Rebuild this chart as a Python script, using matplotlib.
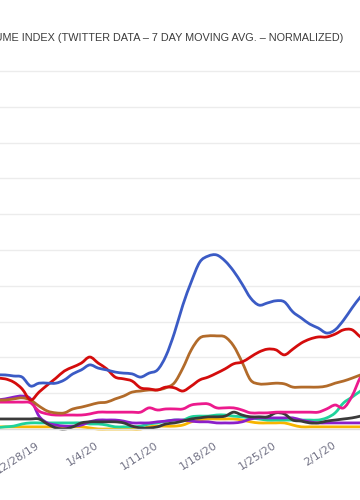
import numpy as np
import pandas as pd
import matplotlib
matplotlib.use('Agg')
import matplotlib.pyplot as plt
import matplotlib.dates as mdates
import matplotlib.transforms as mtransforms
from matplotlib.path import Path
from matplotlib.patches import PathPatch

# daily values, 12/23/19 .. 2/5/20 (index, normalized)
dates = pd.date_range('2019-12-23', '2020-02-05', freq='D')

blue = [15.1, 15.1, 14.8, 14.5, 12.0, 12.8, 12.8, 12.8, 13.7, 15.4, 16.5, 17.9, 17.0, 16.5, 15.9,
        15.6, 15.4, 14.5, 15.6, 16.5, 20.4, 26.8, 34.6, 41.1, 46.6, 48.3, 48.6, 46.9, 44.1, 40.5,
        36.6, 34.6, 35.2, 35.8, 35.5, 32.7, 31.0, 29.3, 28.2, 26.8, 27.7, 30.4, 33.8, 36.9, 39.4]
red = [14.2, 14.0, 13.1, 11.2, 8.1, 10.3, 12.3, 14.2, 16.2, 17.3, 18.4, 20.1, 18.4, 16.8, 14.5,
       14.0, 13.4, 11.5, 11.2, 10.9, 11.7, 11.5, 10.6, 12.0, 13.7, 14.5, 15.6, 16.8, 18.2, 18.7,
       20.1, 21.5, 22.3, 22.1, 20.7, 22.3, 24.0, 25.1, 25.7, 25.7, 26.5, 27.7, 27.7, 25.7, 24.3]
brown = [8.1, 8.1, 8.4, 8.7, 8.1, 6.4, 5.0, 4.5, 4.5, 5.6, 6.1, 6.7, 7.3, 7.5, 8.4,
         9.2, 10.3, 10.6, 10.9, 10.9, 11.5, 12.9, 17.0, 22.1, 25.4, 26.0, 26.0, 25.7, 23.2, 18.7,
         13.7, 12.6, 12.6, 12.8, 12.6, 11.7, 11.7, 11.7, 11.7, 12.0, 12.8, 13.4, 14.2, 15.1, 15.9]
pink = [7.5, 7.5, 7.5, 7.5, 7.3, 5.0, 4.2, 3.9, 3.9, 3.9, 3.9, 4.2, 4.7, 4.7, 4.7,
        4.7, 4.7, 4.7, 5.9, 5.3, 5.6, 5.6, 5.6, 6.7, 7.0, 7.0, 5.9, 5.9, 5.9, 5.3,
        4.5, 4.5, 4.5, 4.7, 4.7, 4.7, 4.7, 4.7, 4.7, 5.6, 6.7, 5.9, 9.2, 14.5, 17.9]
purple = [8.1, 8.4, 8.9, 9.2, 8.4, 3.6, 1.7, 1.1, 0.8, 0.8, 1.1, 2.0, 2.5, 2.5, 2.5,
          2.2, 1.7, 1.7, 1.7, 2.0, 2.2, 2.5, 2.5, 2.2, 2.0, 2.0, 1.7, 1.7, 1.7, 2.0,
          2.8, 3.1, 3.1, 3.1, 3.1, 3.1, 2.5, 2.0, 1.7, 1.7, 1.7, 1.7, 1.7, 1.7, 1.7]
green = [0.3, 0.6, 0.8, 1.4, 1.7, 1.7, 1.7, 1.7, 1.7, 1.7, 1.7, 1.4, 1.4, 1.1, 0.6,
         0.6, 0.6, 0.8, 1.4, 1.7, 2.2, 2.5, 2.5, 3.4, 3.6, 3.6, 3.9, 3.9, 3.6, 3.4,
         3.1, 2.8, 2.5, 2.5, 2.5, 2.5, 2.5, 2.5, 2.5, 3.1, 4.5, 7.3, 8.9, 10.6, 12.0]
dark = [2.8, 2.8, 2.8, 2.8, 2.8, 2.8, 1.4, 0.3, 0.0, 0.6, 1.7, 2.0, 2.0, 2.0, 2.0,
        1.7, 0.8, 0.3, 0.3, 0.6, 1.4, 1.7, 2.2, 2.8, 3.1, 3.4, 3.4, 3.6, 4.7, 3.9,
        3.4, 3.4, 3.4, 4.5, 4.2, 2.5, 2.2, 1.7, 1.7, 2.2, 2.5, 2.8, 3.1, 3.6, 4.2]
yellow = [0.6, 0.6, 0.6, 0.6, 0.6, 0.6, 0.6, 0.6, 0.6, 0.6, 0.6, 0.3, 0.0, 0.0, 0.0,
          0.0, 0.0, 0.0, 0.6, 0.8, 0.8, 0.8, 1.1, 2.0, 2.5, 2.8, 2.8, 2.8, 2.8, 2.5,
          2.0, 1.7, 1.7, 1.7, 1.7, 1.1, 0.6, 0.6, 0.6, 0.6, 0.6, 0.6, 0.6, 0.6, 0.6]

tick_dates = pd.to_datetime(['2019-12-28', '2020-01-04', '2020-01-11',
                             '2020-01-18', '2020-01-25', '2020-02-01'])
tick_labels = ['12/28/19', '1/4/20', '1/11/20', '1/18/20', '1/25/20', '2/1/20']


def curve_path(xs, ys):
    # smooth curve through the daily points (catmull-rom as cubic beziers)
    pts = np.column_stack([xs, ys])
    n = len(pts)
    verts = [pts[0]]
    codes = [Path.MOVETO]
    for i in range(n - 1):
        p0 = pts[max(i - 1, 0)]
        p1 = pts[i]
        p2 = pts[i + 1]
        p3 = pts[min(i + 2, n - 1)]
        verts += [p1 + (p2 - p0) / 6.0, p2 - (p3 - p1) / 6.0, p2]
        codes += [Path.CURVE4] * 3
    return Path(verts, codes)


fig = plt.figure(figsize=(3.6, 5.0), dpi=100)
ax = fig.add_axes([0.0, 0.142, 1.0, 0.752])

x_num = mdates.date2num(dates)
series = [(yellow, '#f7b500'), (green, '#1fd39b'), (purple, '#8b1fc9'), (dark, '#3a3a3a'),
          (pink, '#ec1a8d'), (brown, '#b26b2a'), (red, '#d40c0c'), (blue, '#3b5bc5')]
for vals, col in series:
    patch = PathPatch(curve_path(x_num, vals), facecolor='none', edgecolor=col,
                      linewidth=2.0, joinstyle='round', capstyle='round',
                      transform=ax.transData, clip_on=False)
    ax.add_patch(patch)

start = mdates.date2num(pd.Timestamp('2019-12-28'))
ax.set_xlim(start - 4.61, start + 37.94)
ax.set_ylim(0, 105)
ax.set_yticks(np.arange(10, 101, 10))
ax.yaxis.grid(True, color='#ececec', linewidth=1.0)
ax.set_axisbelow(True)
ax.tick_params(axis='y', left=False, labelleft=False)

ax.set_xticks(mdates.date2num(tick_dates))
ax.set_xticklabels(tick_labels, rotation=33, ha='right', va='top',
                   rotation_mode='anchor', fontsize=8, color='#737386')
ax.tick_params(axis='x', length=0, pad=8)
shift = mtransforms.ScaledTranslation(-3 / 100, 0, fig.dpi_scale_trans)
for lab in ax.get_xticklabels():
    lab.set_transform(lab.get_transform() + shift)

for s in ['top', 'left', 'right']:
    ax.spines[s].set_visible(False)
ax.spines['bottom'].set_color('#dddddd')
ax.spines['bottom'].set_linewidth(1.0)

fig.text(343 / 360, 1 - 38 / 500,
         'CONVERSATION VOLUME INDEX (TWITTER DATA \u2013 7 DAY MOVING AVG. \u2013 NORMALIZED)',
         ha='right', va='center', fontsize=7.8, color='#3c3c3c', family='Liberation Sans')

fig.savefig('out.png', dpi=100)
